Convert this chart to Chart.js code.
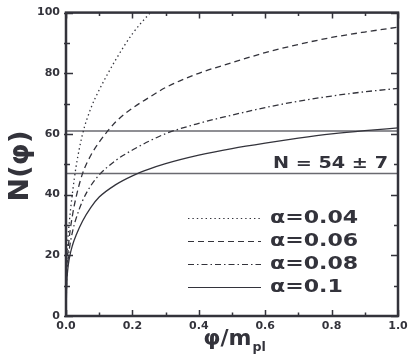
<!DOCTYPE html>
<html>
<head>
<meta charset="utf-8">
<script src="https://cdn.jsdelivr.net/npm/chart.js@4.4.1/dist/chart.umd.min.js"></script>
<style>
  html, body { margin: 0; padding: 0; background: #fff; }
  #wrap { width: 415px; height: 360px; }
</style>
</head>
<body>
<div id="wrap"><canvas id="c" width="415" height="360"></canvas></div>
<script>
/* global Chart */

// phi / m_pl
const phi = [0, 0.002, 0.005, 0.01, 0.02, 0.03, 0.05, 0.075, 0.1, 0.15, 0.2, 0.25, 0.3, 0.4, 0.5, 0.6, 0.7, 0.8, 0.9, 1.0]

// N(phi) for each alpha
const n004 = [0, 16, 24, 31, 41, 49, 60, 68.5, 74.5, 84.5, 93, 99.5, 105, null, null, null, null, null, null, null]
const n006 = [0, 14, 20, 26, 33.5, 39, 47, 53, 57.3, 64, 68.5, 72, 75.3, 80, 83.5, 86.8, 89.5, 91.8, 93.6, 95.2]
const n008 = [0, 12, 17, 22, 28, 32, 38, 43, 46.5, 51.3, 54.7, 57.6, 60.1, 63.5, 66.2, 68.7, 70.8, 72.5, 73.9, 75]
const n010 = [0, 10, 15, 19, 23.5, 26.5, 31.3, 35.8, 39.2, 43.3, 46.2, 48.4, 50.2, 53, 55.2, 57, 58.6, 60, 61.1, 62]

const alphaLabels = ['\u03b1=0.04', '\u03b1=0.06', '\u03b1=0.08', '\u03b1=0.1']
const bandLines = [61, 47] // N = 54 +- 7
const bandLabel = 'N = 54 \u00b1 7'

const xTitle = '\u03c6/m'
const xTitleSub = 'pl'
const yTitle = 'N(\u03c6)'

const INK = '#33333b'
const BOLD = '"DejaVu Sans", "Liberation Sans", Arial, sans-serif'

function pts(ys) {
  return phi.map((x, i) => ({ x, y: ys[i] }))
}

function curve(label, ys, dash) {
  return {
    label,
    data: pts(ys),
    borderColor: INK,
    borderWidth: 1.3,
    borderDash: dash,
    pointRadius: 0,
    fill: false,
    cubicInterpolationMode: 'monotone',
    spanGaps: false
  }
}

function hline(v) {
  return {
    label: 'band',
    data: [{ x: 0, y: v }, { x: 1, y: v }],
    borderColor: '#6a6a70',
    borderWidth: 1.5,
    pointRadius: 0,
    fill: false
  }
}

const datasets = [
  curve(alphaLabels[0], n004, [1.4, 3]),
  curve(alphaLabels[1], n006, [6, 4]),
  curve(alphaLabels[2], n008, [6, 3, 1.5, 3]),
  curve(alphaLabels[3], n010, []),
  hline(bandLines[0]),
  hline(bandLines[1])
]

// stretched text, mimicking the wide bold face of the original
function wideText(ctx, text, x, y, size, sx, align) {
  ctx.save()
  ctx.font = `bold ${size}px ${BOLD}`
  const w = ctx.measureText(text).width * sx
  let x0 = x
  if (align === 'right') x0 = x - w
  else if (align === 'center') x0 = x - w / 2
  ctx.translate(x0, y)
  ctx.scale(sx, 1)
  ctx.textAlign = 'left'
  ctx.fillText(text, 0, 0)
  ctx.restore()
  return w
}

const framePlugin = {
  id: 'frame',
  afterDraw(chart) {
    const { ctx, chartArea: a, scales } = chart
    const xs = scales.x
    const ys = scales.y
    ctx.save()
    ctx.strokeStyle = INK
    ctx.fillStyle = INK

    // ticks, inward on all four sides
    ctx.lineWidth = 1.5
    for (let v = 0; v <= 1.0001; v += 0.1) {
      const px = Math.round(xs.getPixelForValue(v)) + 0.5
      const major = Math.round(v * 10) % 2 === 0
      const len = major ? 6 : 3.5
      ctx.beginPath()
      ctx.moveTo(px, a.bottom); ctx.lineTo(px, a.bottom - len)
      ctx.moveTo(px, a.top); ctx.lineTo(px, a.top + len)
      ctx.stroke()
    }
    for (let v = 0; v <= 100; v += 10) {
      const py = Math.round(ys.getPixelForValue(v)) + 0.5
      const major = v % 20 === 0
      const len = major ? 7 : 4
      ctx.beginPath()
      ctx.moveTo(a.left - 2, py); ctx.lineTo(a.left + len, py)
      ctx.moveTo(a.right, py); ctx.lineTo(a.right - len, py)
      ctx.stroke()
    }

    // box
    ctx.lineWidth = 2.5
    ctx.strokeRect(a.left, a.top, a.right - a.left, a.bottom - a.top)

    // band label
    wideText(ctx, bandLabel, a.right - 10, ys.getPixelForValue(bandLines[1]) - 5, 15, 1.28, 'right')

    // legend
    const curves = chart.data.datasets.slice(0, 4)
    const rowY = [218, 241, 264, 287]
    curves.forEach((ds, i) => {
      const y = rowY[i]
      ctx.save()
      ctx.lineWidth = 1.2
      ctx.setLineDash(ds.borderDash)
      ctx.beginPath()
      ctx.moveTo(188, y + 0.5)
      ctx.lineTo(261, y + 0.5)
      ctx.stroke()
      ctx.restore()
      ctx.textBaseline = 'middle'
      wideText(ctx, ds.label, 270, y + 1, 17, 1.3, 'left')
    })

    // y title (rotated)
    ctx.save()
    ctx.translate(28, 166)
    ctx.rotate(-Math.PI / 2)
    ctx.textBaseline = 'alphabetic'
    wideText(ctx, yTitle, 0, 0, 26, 1.08, 'center')
    ctx.restore()

    // x title with subscript
    ctx.textBaseline = 'alphabetic'
    const cx = (a.left + a.right) / 2 + 2
    ctx.font = `bold 21px ${BOLD}`
    const w1 = ctx.measureText(xTitle).width * 1.05
    ctx.font = `bold 12px ${BOLD}`
    const w2 = ctx.measureText(xTitleSub).width * 1.05
    const x0 = cx - (w1 + w2) / 2
    wideText(ctx, xTitle, x0, 345, 21, 1.05, 'left')
    wideText(ctx, xTitleSub, x0 + w1 + 1, 351, 12, 1.05, 'left')

    ctx.restore()
  }
}

new Chart(document.getElementById('c'), {
  type: 'line',
  data: { datasets },
  options: {
    responsive: false,
    animation: false,
    parsing: true,
    layout: { padding: { left: 0, right: 17, top: 11, bottom: 0 } },
    plugins: {
      legend: { display: false },
      tooltip: { enabled: false }
    },
    scales: {
      x: {
        type: 'linear',
        min: 0,
        max: 1,
        afterFit(s) { s.height = 44 },
        grid: { display: false, drawTicks: false },
        border: { display: false },
        ticks: {
          stepSize: 0.2,
          padding: 4,
          maxRotation: 0,
          color: INK,
          font: { family: BOLD, size: 11, weight: 'bold' },
          callback: v => Number(v).toFixed(1)
        }
      },
      y: {
        type: 'linear',
        min: 0,
        max: 100,
        afterFit(s) { s.width = 66 },
        grid: { display: false, drawTicks: false },
        border: { display: false },
        ticks: {
          stepSize: 20,
          padding: 6,
          color: INK,
          font: { family: BOLD, size: 11, weight: 'bold' }
        }
      }
    }
  },
  plugins: [framePlugin]
})
</script>
</body>
</html>
